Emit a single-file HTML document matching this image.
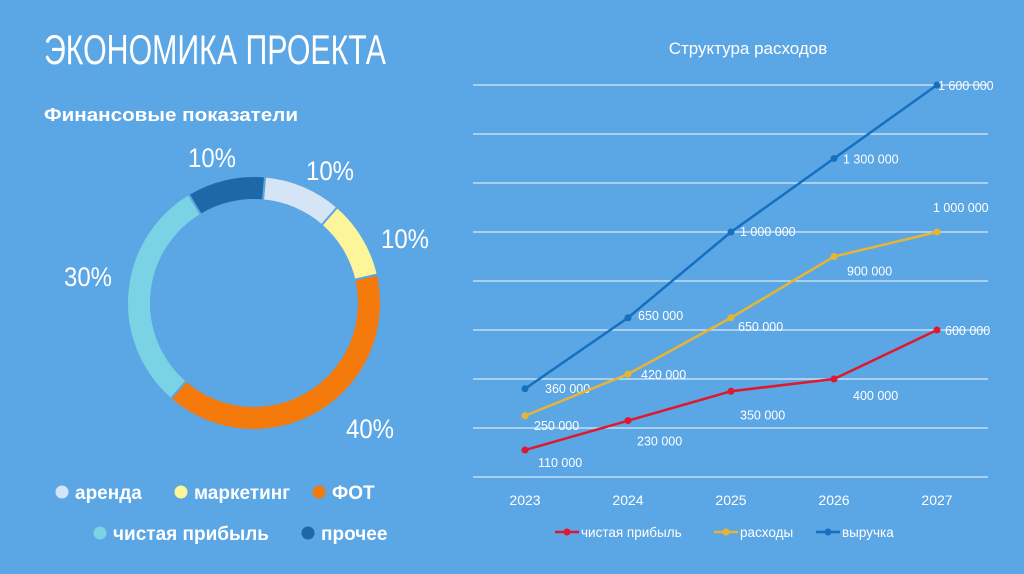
<!DOCTYPE html>
<html><head><meta charset="utf-8"><style>
html,body{margin:0;padding:0;}
body{width:1024px;height:574px;background:#5ba6e4;overflow:hidden;position:relative;font-family:"Liberation Sans","DejaVu Sans",sans-serif;color:#fff;}
svg{position:absolute;left:0;top:0;}
</style></head><body>
<svg width="1024" height="574" viewBox="0 0 1024 574">
<text x="44" y="64" font-size="42" fill="#fff" textLength="342" lengthAdjust="spacingAndGlyphs" font-family="Liberation Sans Narrow, Liberation Sans, sans-serif">ЭКОНОМИКА ПРОЕКТА</text>
<text x="44" y="121" font-size="18" fill="#fff" font-weight="bold" textLength="254" lengthAdjust="spacingAndGlyphs">Финансовые показатели</text>
<text x="748" y="54" font-size="17" fill="#fff" text-anchor="middle">Структура расходов</text>
<g id="donut"></g>
<g id="legend1"></g>
<g id="grid"></g>
<g id="lines"></g>
<g id="xaxis"></g>
<g id="legend2"></g>
</svg>
<script>
const pieCats=["аренда","маркетинг","ФОТ","чистая прибыль","прочее"];
const pieVals=[10,10,40,30,10];
const pieColors=["#d5e5f5","#fdf59a","#f47a0c","#7ad3e4","#1e68a8"];
const years=["2023","2024","2025","2026","2027"];
const profit=[110000,230000,350000,400000,600000];
const expenses=[250000,420000,650000,900000,1000000];
const revenue=[360000,650000,1000000,1300000,1600000];
const yMax=1600000, yStep=200000;
const NS="http://www.w3.org/2000/svg";
function mk(t,a,p){const e=document.createElementNS(NS,t);for(const k in a)e.setAttribute(k,a[k]);p.appendChild(e);return e;}
const dg=document.getElementById('donut');
const cx=254,cy=303,R=127,r=103;
let tot=pieVals.reduce((a,b)=>a+b,0),ang=5*Math.PI/180;
const labelPos=[[330,170],[405,238],[370,428],[88,276],[212,157]];
pieVals.forEach((v,i)=>{
  const a0=ang,a1=ang+v/tot*2*Math.PI;ang=a1;
  const p=(a,rr)=>[cx+rr*Math.sin(a),cy-rr*Math.cos(a)];
  const [x0,y0]=p(a0,R),[x1,y1]=p(a1,R),[x2,y2]=p(a1,r),[x3,y3]=p(a0,r);
  const lg=(a1-a0)>Math.PI?1:0;
  const s=mk('path',{d:`M${x0},${y0}A${R},${R} 0 ${lg} 1 ${x1},${y1}L${x2},${y2}A${r},${r} 0 ${lg} 0 ${x3},${y3}Z`,fill:pieColors[i],stroke:"#5ba6e4","stroke-width":2},dg);
  
  
  const t=mk('text',{x:labelPos[i][0]-24,y:labelPos[i][1]+10,"font-size":27,fill:"#fff",textLength:48,lengthAdjust:"spacingAndGlyphs","font-family":"Liberation Sans Narrow, Liberation Sans, sans-serif"},dg);
  t.textContent=v+'%';
  
  
});
const lg1=document.getElementById('legend1');
const legPos=[[62,492],[181,492],[319,492],[100,533],[308,533]];
pieCats.forEach((c,i)=>{
  const g=mk('g',{},lg1);
  
  
  mk('circle',{cx:legPos[i][0],cy:legPos[i][1],r:6.5,fill:pieColors[i]},g);
  const t=mk('text',{x:legPos[i][0]+13,y:legPos[i][1]+7,"font-size":19,fill:"#fff","font-weight":"bold"},g);
  t.textContent=c;
});
const x0=525,dx=103,yBase=477,yTop=85;
const X=i=>x0+i*dx, Y=v=>yBase-(v/yMax)*(yBase-yTop);
const gg=document.getElementById('grid');
for(let v=0;v<=yMax;v+=yStep){
  const l=mk('line',{x1:473,x2:988,y1:Y(v),y2:Y(v),stroke:"#d9e9f7","stroke-width":1.3},gg);
  
  
}
const fmt=v=>v.toString().replace(/\B(?=(\d{3})+(?!\d))/g,' ');
const series=[
 {name:"выручка",vals:revenue,color:"#1570c0",off:[[20,0],[10,-2],[9,0],[9,1],[1,1]]},
 {name:"расходы",vals:expenses,color:"#e6b534",off:[[9,10],[13,1],[7,9],[13,15],[-4,-24]]},
 {name:"чистая прибыль",vals:profit,color:"#e0182e",off:[[13,13],[9,21],[9,24],[19,17],[8,1]]}
];
const lgl=document.getElementById('lines');
series.forEach(s=>{
  const g=mk('g',{},lgl);
  
  
  mk('polyline',{points:s.vals.map((v,i)=>X(i)+','+Y(v)).join(' '),fill:"none",stroke:s.color,"stroke-width":2.5},g);
  s.vals.forEach((v,i)=>{
    const c=mk('circle',{cx:X(i),cy:Y(v),r:3.5,fill:s.color},g);
    
    
    const t=mk('text',{x:X(i)+s.off[i][0],y:Y(v)+s.off[i][1]+4,"font-size":12.5,fill:"#fff"},g);
    t.textContent=fmt(v);
    
    
  });
});
const xa=document.getElementById('xaxis');
years.forEach((y,i)=>{
  const t=mk('text',{x:X(i),y:505,"font-size":14,fill:"#fff","text-anchor":"middle"},xa);
  t.textContent=y;
  
  
});
const l2=document.getElementById('legend2');
const leg2=[[series[2],555],[series[1],714],[series[0],816]];
leg2.forEach(([s,x])=>{
  const g=mk('g',{},l2);
  
  
  mk('line',{x1:x,x2:x+24,y1:532,y2:532,stroke:s.color,"stroke-width":2.5},g);
  mk('circle',{cx:x+12,cy:532,r:3.5,fill:s.color},g);
  const t=mk('text',{x:x+26,y:537,"font-size":13.5,fill:"#fff"},g);
  t.textContent=s.name;
});
</script>
</body></html>
